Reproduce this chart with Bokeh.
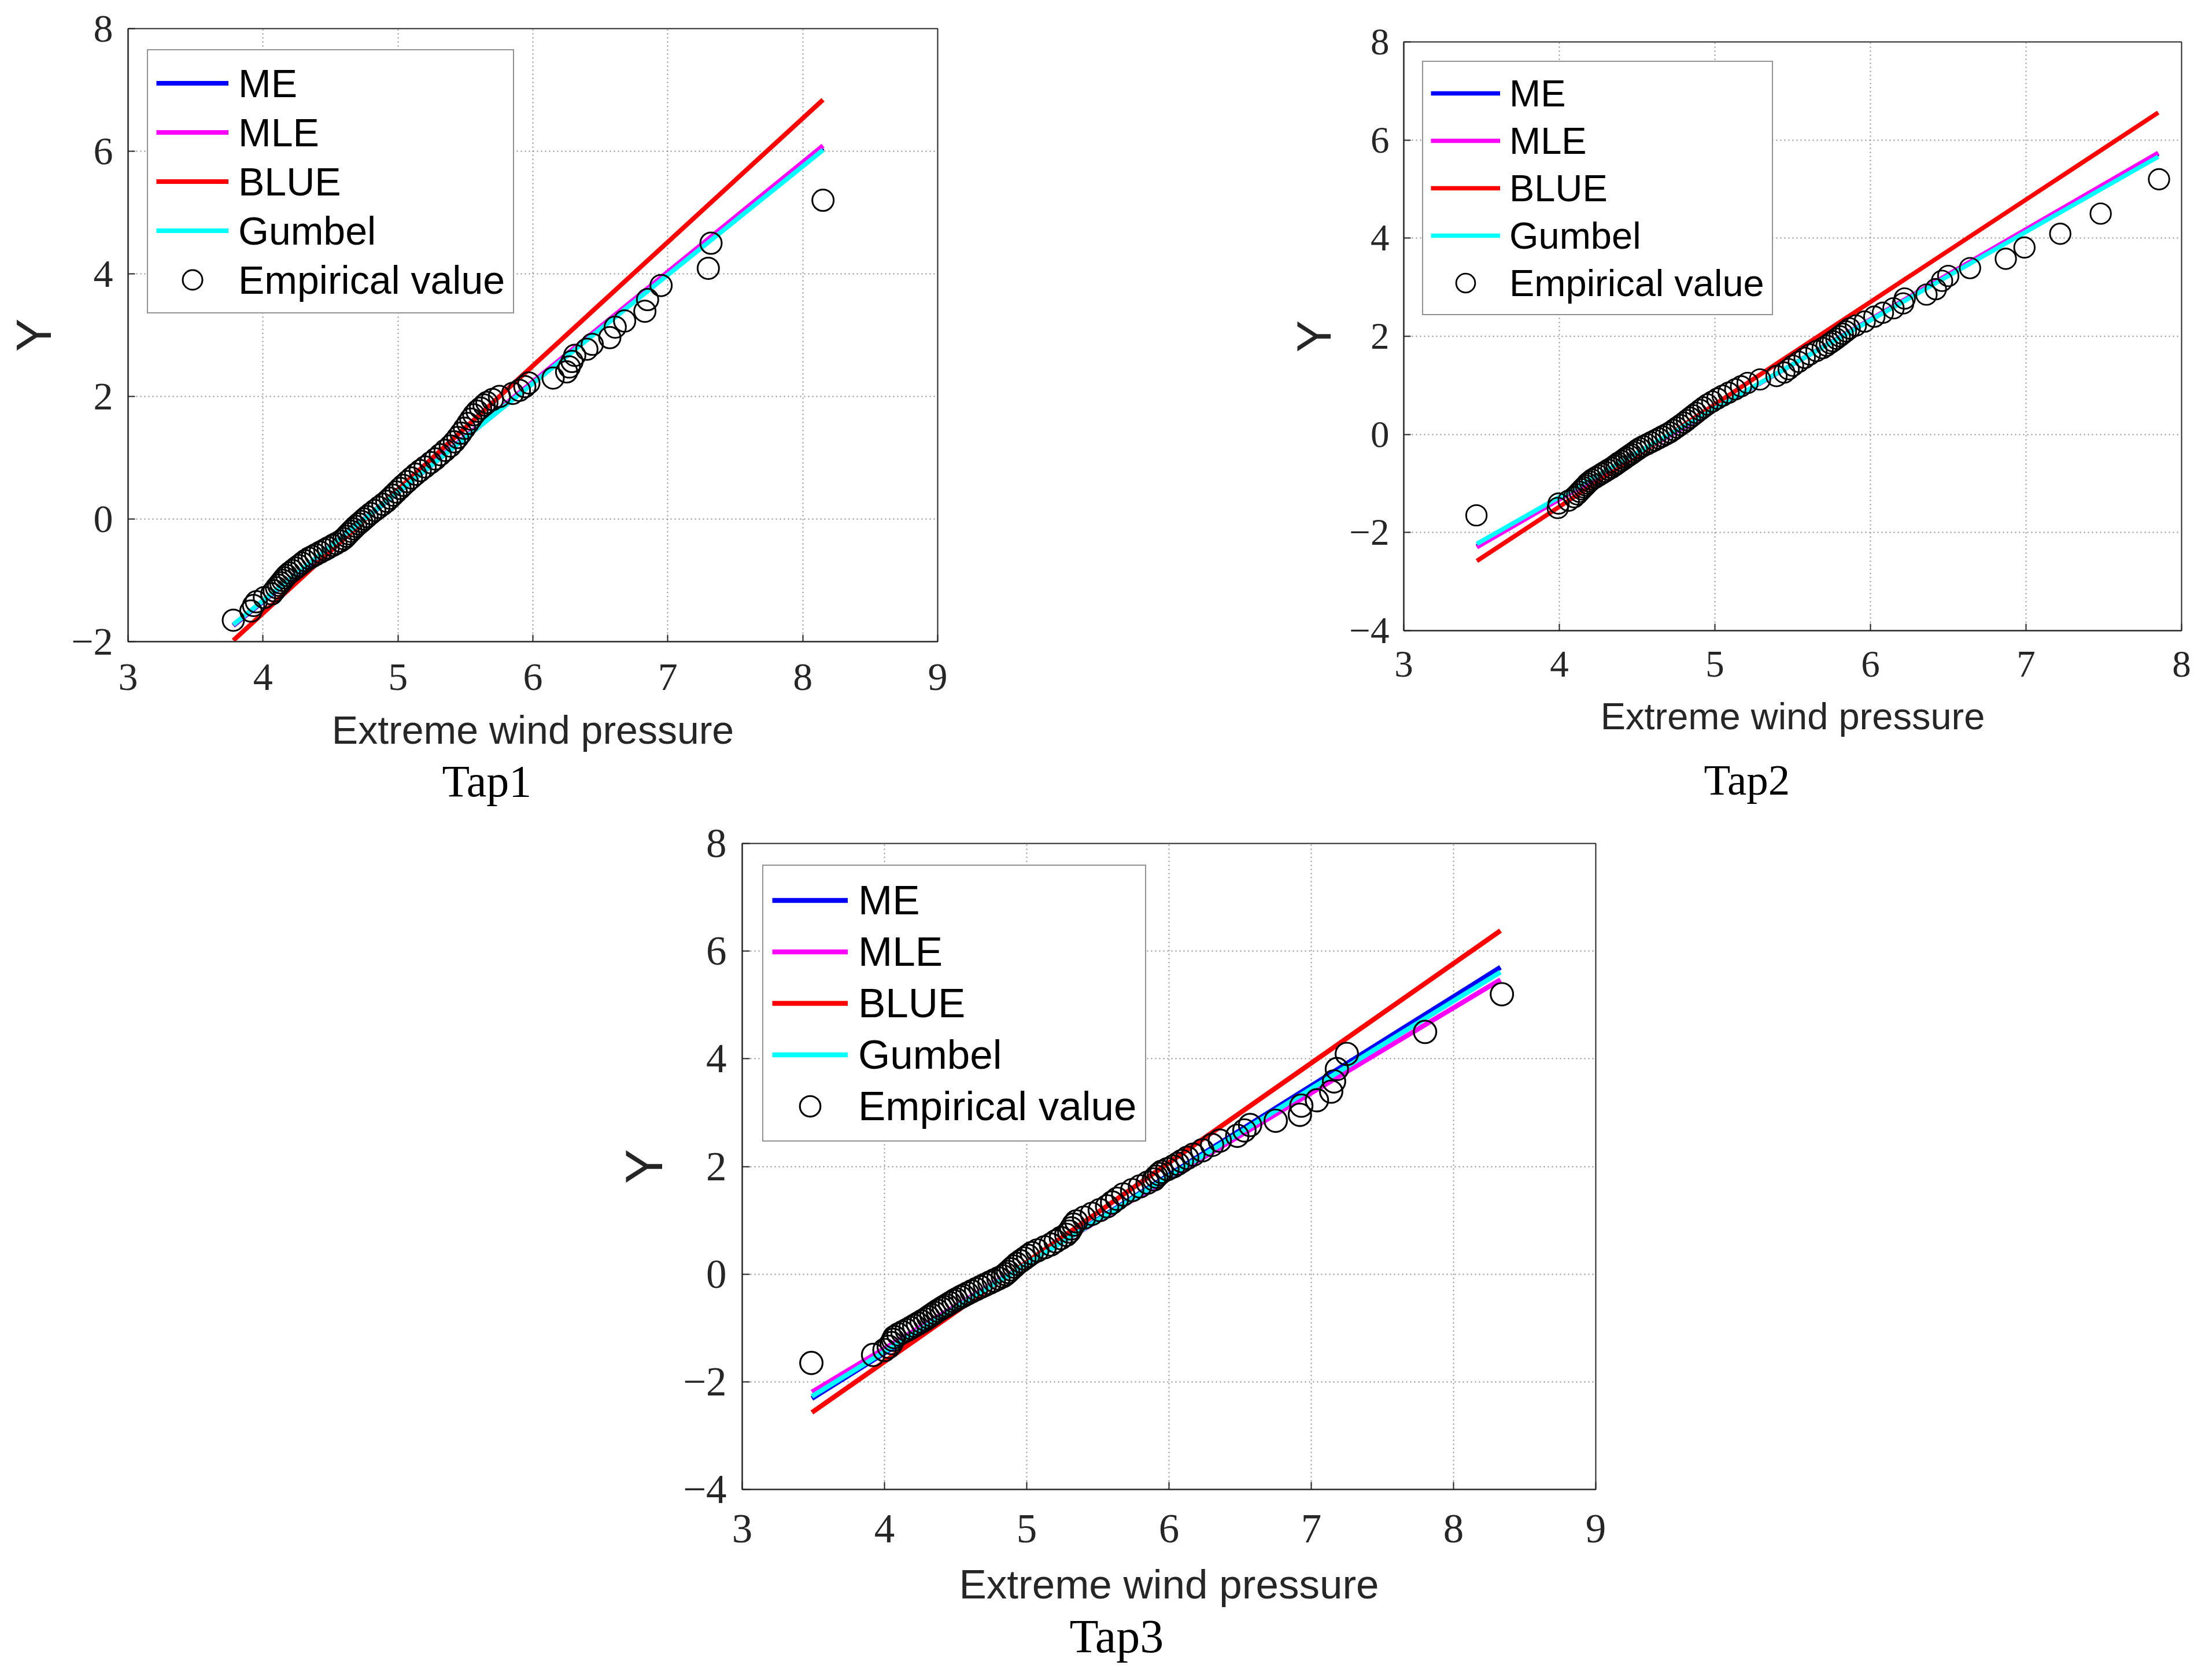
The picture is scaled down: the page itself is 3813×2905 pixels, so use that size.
from bokeh.plotting import figure
from bokeh.models import Range1d, FixedTicker, Title, Legend, LegendItem, Spacer
from bokeh.layouts import row, column
from bokeh.embed import file_html
from bokeh.resources import INLINE

# ---------------- data ----------------
# reduced variate Y (Gumbel plotting positions), shared by all taps
reduced_y = [-1.65, -1.50, -1.41, -1.35, -1.28, -1.22, -1.17, -1.12, -1.08, -1.04,
             -1.00, -0.96, -0.92, -0.88, -0.84, -0.80, -0.76, -0.72, -0.68, -0.64,
             -0.61, -0.58, -0.54, -0.50, -0.47, -0.43, -0.40, -0.36, -0.32, -0.28,
             -0.24, -0.20, -0.16, -0.12, -0.08, -0.04, 0.00, 0.04, 0.09, 0.14,
             0.19, 0.24, 0.29, 0.34, 0.39, 0.44, 0.50, 0.55, 0.61, 0.67,
             0.73, 0.79, 0.85, 0.92, 0.98, 1.05, 1.12, 1.19, 1.26, 1.33,
             1.40, 1.48, 1.56, 1.63, 1.70, 1.76, 1.81, 1.86, 1.90, 1.95,
             2.00, 2.05, 2.10, 2.16, 2.22, 2.30, 2.40, 2.48, 2.57, 2.67,
             2.77, 2.85, 2.96, 3.13, 3.23, 3.39, 3.58, 3.81, 4.09, 4.50, 5.20]

tap1_pressure = [3.78, 3.91, 3.93, 3.95, 4.01, 4.065, 4.083, 4.10, 4.116, 4.131,
                 4.145, 4.16, 4.175, 4.195, 4.219, 4.242, 4.265, 4.289, 4.312, 4.34,
                 4.366, 4.391, 4.424, 4.458, 4.483, 4.516, 4.541, 4.574, 4.599, 4.617,
                 4.634, 4.652, 4.67, 4.688, 4.709, 4.73, 4.75, 4.771, 4.799, 4.828,
                 4.858, 4.888, 4.917, 4.941, 4.964, 4.987, 5.015, 5.039, 5.069, 5.10,
                 5.131, 5.165, 5.201, 5.243, 5.278, 5.314, 5.35, 5.388, 5.418, 5.443,
                 5.467, 5.493, 5.518, 5.54, 5.562, 5.586, 5.612, 5.638, 5.659, 5.70,
                 5.752, 5.85, 5.90, 5.94, 5.97, 6.15, 6.25, 6.27, 6.29, 6.31,
                 6.40, 6.44, 6.57, 6.61, 6.68, 6.83, 6.85, 6.95, 7.30, 7.32, 8.15]

tap2_pressure = [3.467, 3.99, 3.995, 4.06, 4.095, 4.115, 4.13, 4.145, 4.157, 4.17,
                 4.18, 4.195, 4.21, 4.231, 4.252, 4.273, 4.293, 4.314, 4.335, 4.354,
                 4.367, 4.38, 4.399, 4.417, 4.43, 4.448, 4.462, 4.48, 4.498, 4.516,
                 4.539, 4.564, 4.589, 4.614, 4.638, 4.662, 4.686, 4.71, 4.733, 4.755,
                 4.778, 4.80, 4.82, 4.84, 4.86, 4.88, 4.905, 4.926, 4.952, 4.983,
                 5.016, 5.05, 5.088, 5.131, 5.168, 5.21, 5.29, 5.396, 5.446, 5.474,
                 5.502, 5.539, 5.577, 5.61, 5.653, 5.693, 5.718, 5.74, 5.759, 5.781,
                 5.802, 5.822, 5.842, 5.866, 5.906, 5.963, 6.025, 6.08, 6.148, 6.21,
                 6.22, 6.36, 6.42, 6.46, 6.50, 6.64, 6.87, 6.99, 7.22, 7.48, 7.855]

tap3_pressure = [3.486, 3.92, 4.00, 4.03, 4.05, 4.06, 4.07, 4.098, 4.127, 4.156,
                 4.183, 4.209, 4.235, 4.261, 4.286, 4.308, 4.33, 4.352, 4.374, 4.399,
                 4.417, 4.436, 4.46, 4.485, 4.504, 4.532, 4.554, 4.583, 4.613, 4.644,
                 4.675, 4.706, 4.738, 4.769, 4.801, 4.832, 4.852, 4.869, 4.889, 4.91,
                 4.93, 4.956, 4.983, 5.009, 5.035, 5.074, 5.126, 5.169, 5.203, 5.24,
                 5.278, 5.299, 5.313, 5.329, 5.348, 5.403, 5.458, 5.513, 5.565, 5.60,
                 5.635, 5.678, 5.741, 5.796, 5.85, 5.894, 5.911, 5.93, 5.948, 5.989,
                 6.03, 6.061, 6.091, 6.128, 6.171, 6.234, 6.303, 6.357, 6.48, 6.53,
                 6.57, 6.75, 6.92, 6.93, 7.04, 7.14, 7.16, 7.18, 7.25, 7.80, 8.34]

# fitted lines: values of Y at the two ends of the pressure range
tap1_ends = [3.78, 8.15]
tap1_me = [-1.74, 6.05]
tap1_mle = [-1.73, 6.09]
tap1_blue = [-1.98, 6.84]
tap1_gumbel = [-1.72, 6.02]

tap2_ends = [3.47, 7.85]
tap2_me = [-2.28, 5.72]
tap2_mle = [-2.30, 5.74]
tap2_blue = [-2.58, 6.56]
tap2_gumbel = [-2.23, 5.66]

tap3_ends = [3.49, 8.33]
tap3_me = [-2.31, 5.70]
tap3_mle = [-2.19, 5.47]
tap3_blue = [-2.57, 6.38]
tap3_gumbel = [-2.27, 5.61]

method_names = ["ME", "MLE", "BLUE", "Gumbel"]
method_colors = ["#0000FF", "#FF00FF", "#FF0000", "#00FFFF"]

x_ticks_9 = [3, 4, 5, 6, 7, 8, 9]
x_ticks_8 = [3, 4, 5, 6, 7, 8]
y_ticks_a = [-2, 0, 2, 4, 6, 8]
y_ticks_b = [-4, -2, 0, 2, 4, 6, 8]

AXIS_COLOR = "#262626"


def make_panel(name, px, ends, fits, xr, yr, xt, yt, fw, fh, borders, s,
               leg_offset, title_offset, title_standoff,
               x_lab_so, x_axlab_so, y_axlab_so):
    bl, bt, br, bb = borders
    p = figure(frame_width=fw, frame_height=fh,
               min_border_left=bl, min_border_top=bt,
               min_border_right=br, min_border_bottom=bb,
               x_range=Range1d(*xr), y_range=Range1d(*yr),
               output_backend="svg", toolbar_location=None, tools="")
    p.frame_align = False
    p.background_fill_color = "white"
    p.border_fill_color = "white"
    p.outline_line_color = AXIS_COLOR
    p.outline_line_width = 2

    p.xaxis.ticker = FixedTicker(ticks=xt)
    p.yaxis.ticker = FixedTicker(ticks=yt)
    p.yaxis.major_label_overrides = {t: ("\u2212" + str(-t)) for t in yt if t < 0}
    p.xaxis.axis_label = "Extreme wind pressure"
    p.yaxis.axis_label = "Y"
    for ax in (p.xaxis[0], p.yaxis[0]):
        ax.axis_line_color = AXIS_COLOR
        ax.axis_line_width = 2
        ax.major_tick_in = round(12 * s)
        ax.major_tick_out = 0
        ax.major_tick_line_color = AXIS_COLOR
        ax.major_tick_line_width = 2
        ax.minor_tick_line_color = None
        ax.major_label_text_font = "Liberation Serif"
        ax.major_label_text_font_size = f"{round(68 * s)}px"
        ax.major_label_text_color = AXIS_COLOR
        ax.axis_label_text_font = "Liberation Sans"
        ax.axis_label_text_font_style = "normal"
        ax.axis_label_text_color = AXIS_COLOR
    p.xaxis.axis_label_text_font_size = f"{round(68 * s)}px"
    p.yaxis.axis_label_text_font_size = f"{round(86 * s)}px"
    p.xaxis.major_label_standoff = x_lab_so
    p.xaxis.axis_label_standoff = x_axlab_so
    p.yaxis.major_label_standoff = round(26 * s)
    p.yaxis.axis_label_standoff = y_axlab_so

    p.xgrid.ticker = FixedTicker(ticks=xt)
    p.ygrid.ticker = FixedTicker(ticks=yt)
    for g in (p.xgrid[0], p.ygrid[0]):
        g.grid_line_color = "#8a8a8a"
        g.grid_line_width = 2
        g.grid_line_dash = "2 5"

    rends = []
    for vals, col in zip(fits, method_colors):
        r = p.line(ends, vals, line_color=col, line_width=8 * s)
        rends.append(r)
    sc = p.scatter(px, reduced_y, marker="circle", size=37 * s,
                   fill_color=None, line_color="black", line_width=3 * s)

    gh = round(85 * s)
    pad = round(14 * s)
    leg_h = 5 * gh + 2 * pad
    lx, ltop = leg_offset
    items = [LegendItem(label=n, renderers=[r]) for n, r in zip(method_names, rends)]
    items.append(LegendItem(label="Empirical value", renderers=[sc]))
    legend = Legend(items=items, location=(lx, fh - ltop - leg_h),
                    padding=pad, spacing=0,
                    glyph_width=round(125 * s), glyph_height=gh,
                    label_standoff=round(17 * s),
                    label_text_font="Liberation Sans",
                    label_text_font_size=f"{round(68 * s)}px",
                    label_text_color="black",
                    border_line_color=AXIS_COLOR, border_line_width=2,
                    background_fill_color="white", background_fill_alpha=1.0)
    p.add_layout(legend)

    t = Title(text=name, align="left", offset=title_offset, standoff=title_standoff,
              text_font="Liberation Serif", text_font_style="normal",
              text_font_size=f"{round(78 * s)}px", text_color="black")
    p.add_layout(t, "below")
    return p


p1 = make_panel("Tap1", tap1_pressure, tap1_ends,
                [tap1_me, tap1_mle, tap1_blue, tap1_gumbel],
                (3, 9), (-2, 8), x_ticks_9, y_ticks_a,
                1400, 1060, (221, 49, 30, 308), 1.0, (33, 40), 543, 5,
                39, 28, 14)
p2 = make_panel("Tap2", tap2_pressure, tap2_ends,
                [tap2_me, tap2_mle, tap2_blue, tap2_gumbel],
                (3, 8), (-4, 8), x_ticks_8, y_ticks_b,
                1345, 1018, (213, 72, 30, 327), 0.96, (32, 37), 519, 54,
                36, 29, 11)
p3 = make_panel("Tap3", tap3_pressure, tap3_ends,
                [tap3_me, tap3_mle, tap3_blue, tap3_gumbel],
                (3, 9), (-4, 8), x_ticks_9, y_ticks_b,
                1476, 1117, (240, 41, 30, 310), 1.05, (35, 41), 566, 0,
                44, 30, 14)

layout = column(
    row(p1, Spacer(width=563, height=10), p2),
    row(Spacer(width=1043, height=10), p3),
)

open("out.html", "w").write(file_html(layout, INLINE))
